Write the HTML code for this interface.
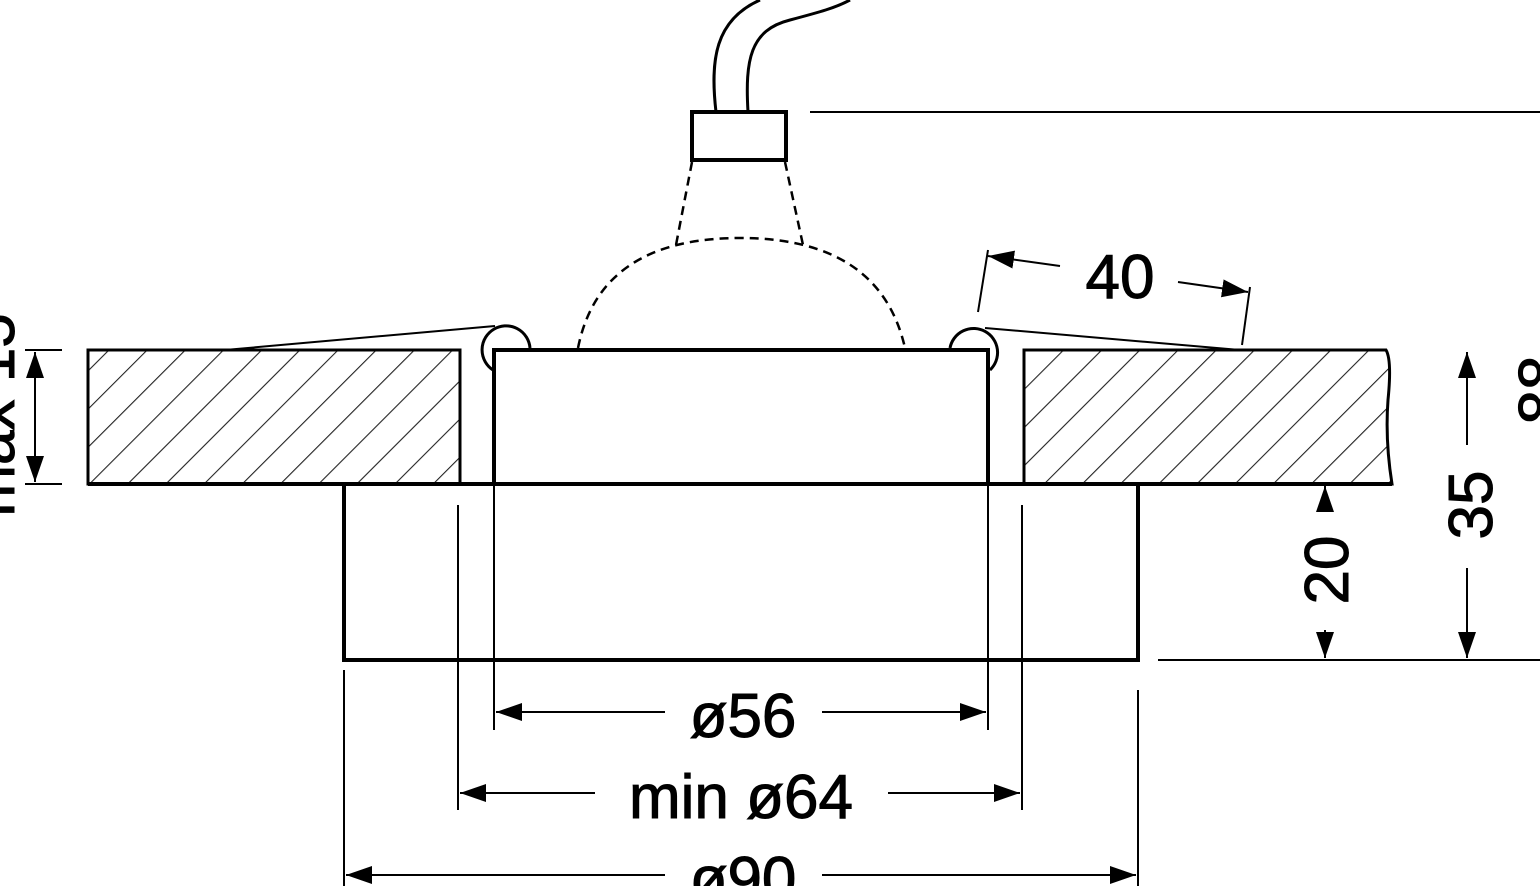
<!DOCTYPE html>
<html><head><style>html,body{margin:0;padding:0;background:#fff;}svg{display:block}</style></head>
<body>
<svg width="1540" height="886" viewBox="0 0 1540 886" xmlns="http://www.w3.org/2000/svg" font-family="Liberation Sans, sans-serif">
<defs>
<pattern id="h" patternUnits="userSpaceOnUse" width="27" height="27" patternTransform="rotate(45)">
<line x1="0" y1="0" x2="0" y2="27" stroke="#222" stroke-width="2.2"/>
</pattern>
<marker id="a" viewBox="0 0 26 18" refX="26" refY="9" markerWidth="26" markerHeight="18" markerUnits="userSpaceOnUse" orient="auto-start-reverse"><path d="M0,0 L26,9 L0,18z" fill="#000"/></marker>
</defs>
<g stroke="#000" fill="none">
<rect x="88" y="350" width="372" height="134" fill="url(#h)" stroke-width="3"/>
<path d="M1024,350 H1386 Q1392,360 1388,400 Q1385,440 1392,484 H1024 Z" fill="url(#h)" stroke-width="3"/>
<line x1="88" y1="484" x2="1392" y2="484" stroke-width="4"/>
<rect x="494" y="350" width="494" height="134" stroke-width="4" fill="#fff"/>
<path d="M344,484 V660 H1138 V484" stroke-width="4"/>
<path d="M493,370 A24,24 0 1 1 530,348" stroke-width="3"/>
<path d="M950,348 A24,24 0 1 1 990,370" stroke-width="3"/>
<line x1="495" y1="326" x2="225" y2="350" stroke-width="2"/>
<line x1="985" y1="328" x2="1240" y2="350" stroke-width="2"/>
<path d="M578,348 Q600,238 740,238 Q880,238 905,348" stroke-width="2.5" stroke-dasharray="9,6"/>
<line x1="692" y1="162" x2="676" y2="245" stroke-width="2.5" stroke-dasharray="9,6"/>
<line x1="785" y1="162" x2="803" y2="245" stroke-width="2.5" stroke-dasharray="9,6"/>
<rect x="692" y="112" width="94" height="48" stroke-width="4" fill="#fff"/>
<path d="M716,112 C710,60 715,20 760,0" stroke-width="3"/>
<path d="M748,112 C745,60 750,30 790,20 C820,12 835,8 850,0" stroke-width="3"/>
<line x1="810" y1="112" x2="1540" y2="112" stroke-width="2"/>
<line x1="1158" y1="660" x2="1540" y2="660" stroke-width="2"/>
<line x1="25" y1="350" x2="62" y2="350" stroke-width="2"/>
<line x1="25" y1="484" x2="62" y2="484" stroke-width="2"/>
<line x1="35" y1="352" x2="35" y2="482" stroke-width="2" marker-start="url(#a)" marker-end="url(#a)"/>
<line x1="978" y1="312" x2="988" y2="250" stroke-width="2"/>
<line x1="1242" y1="345" x2="1250" y2="287" stroke-width="2"/>
<line x1="988" y1="256" x2="1060" y2="266" stroke-width="2" marker-start="url(#a)"/>
<line x1="1178" y1="282" x2="1248" y2="292" stroke-width="2" marker-end="url(#a)"/>
<line x1="1325" y1="486" x2="1325" y2="512" stroke-width="2" marker-start="url(#a)"/>
<line x1="1325" y1="630" x2="1325" y2="658" stroke-width="2" marker-end="url(#a)"/>
<line x1="1467" y1="352" x2="1467" y2="445" stroke-width="2" marker-start="url(#a)"/>
<line x1="1467" y1="568" x2="1467" y2="658" stroke-width="2" marker-end="url(#a)"/>
<line x1="494" y1="484" x2="494" y2="730" stroke-width="2"/>
<line x1="988" y1="484" x2="988" y2="730" stroke-width="2"/>
<line x1="458" y1="505" x2="458" y2="810" stroke-width="2"/>
<line x1="1022" y1="505" x2="1022" y2="810" stroke-width="2"/>
<line x1="344" y1="670" x2="344" y2="886" stroke-width="2"/>
<line x1="1138" y1="690" x2="1138" y2="886" stroke-width="2"/>
<line x1="496" y1="712" x2="665" y2="712" stroke-width="2" marker-start="url(#a)"/>
<line x1="822" y1="712" x2="986" y2="712" stroke-width="2" marker-end="url(#a)"/>
<line x1="460" y1="793" x2="595" y2="793" stroke-width="2" marker-start="url(#a)"/>
<line x1="888" y1="793" x2="1020" y2="793" stroke-width="2" marker-end="url(#a)"/>
<line x1="346" y1="875" x2="665" y2="875" stroke-width="2" marker-start="url(#a)"/>
<line x1="822" y1="875" x2="1136" y2="875" stroke-width="2" marker-end="url(#a)"/>
</g>
<g fill="#000" font-size="62" text-anchor="middle" stroke="#000" stroke-width="1">
<text x="743" y="737">ø56</text>
<text x="741" y="818">min ø64</text>
<text x="743" y="900">ø90</text>
<text x="1120" y="298">40</text>
<text transform="translate(1348,570) rotate(-90)">20</text>
<text transform="translate(1492,505) rotate(-90)">35</text>
<text transform="translate(14,415) rotate(-90)">max 15</text>
<text transform="translate(1562,390) rotate(-90)">88</text>
</g>
</svg>
</body></html>
